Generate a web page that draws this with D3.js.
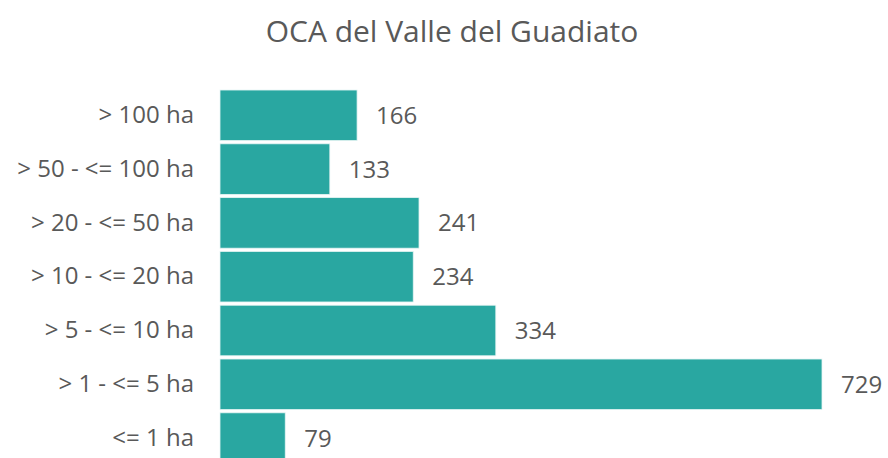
<!DOCTYPE html>
<html>
<head>
<meta charset="utf-8">
<script src="https://cdn.jsdelivr.net/npm/d3@7"></script>
<style>
  body { margin: 0; background: #fff; }
  text { font-family: 'Open Sans', sans-serif; fill: #595959; }
</style>
</head>
<body>
<svg id="chart" width="888" height="458"></svg>
<script>
const title = 'OCA del Valle del Guadiato'
const categories = ['> 100 ha', '> 50 - <= 100 ha', '> 20 - <= 50 ha', '> 10 - <= 20 ha', '> 5 - <= 10 ha', '> 1 - <= 5 ha', '<= 1 ha']
const values = [166, 133, 241, 234, 334, 729, 79]

const svg = d3.select('#chart')

// scales
const x = d3.scaleLinear().domain([0, 729]).range([220, 822])
const y = d3.scaleBand()
  .domain(categories)
  .range([88.4, 465])
  .paddingInner(0.06)
  .paddingOuter(0.03)

svg.append('text')
  .attr('x', 452)
  .attr('y', 42)
  .attr('text-anchor', 'middle')
  .style('font-size', '30px')
  .text(title)

const rows = categories.map((c, i) => ({ cat: c, value: values[i] }))

svg.append('g').selectAll('rect')
  .data(rows)
  .join('rect')
  .attr('x', x(0))
  .attr('y', d => y(d.cat))
  .attr('width', d => x(d.value) - x(0))
  .attr('height', y.bandwidth())
  .attr('fill', '#29a7a1')
  .attr('stroke', '#e6f5f4')
  .attr('stroke-width', 0.8)

// value labels
svg.append('g').selectAll('text')
  .data(rows)
  .join('text')
  .attr('x', d => x(d.value) + 19)
  .attr('y', d => y(d.cat) + y.bandwidth() / 2)
  .attr('dy', '0.35em')
  .style('font-size', '24px')
  .text(d => d.value)

// category axis
const yAxis = d3.axisLeft(y).tickSize(0).tickPadding(26)
const gAxis = svg.append('g')
  .attr('transform', `translate(${x(0)},0)`)
  .call(yAxis)
gAxis.select('.domain').remove()
gAxis.selectAll('text')
  .style('font-size', '24px')
  .style('font-family', "'Open Sans', sans-serif")
  .attr('fill', '#595959')
</script>
</body>
</html>
